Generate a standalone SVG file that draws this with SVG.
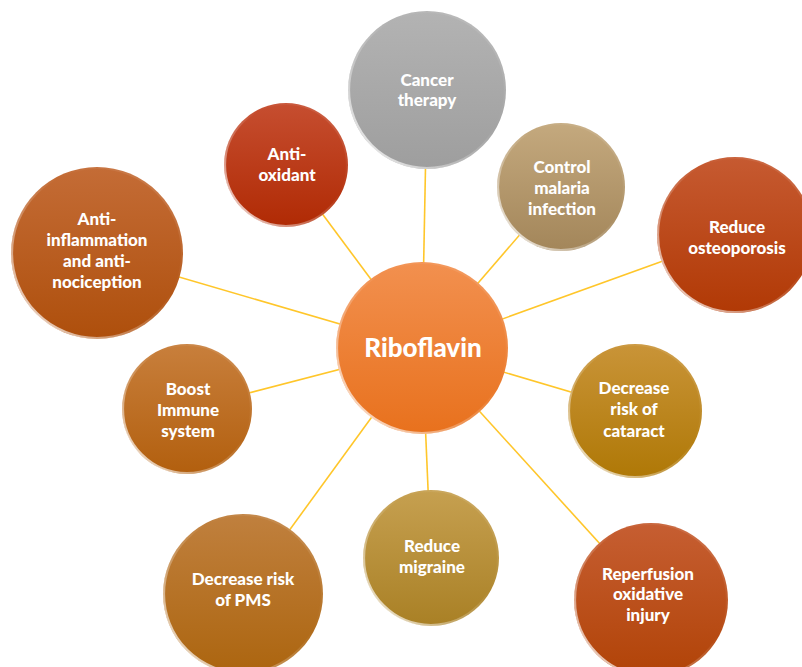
<svg xmlns="http://www.w3.org/2000/svg" width="802" height="667" viewBox="0 0 802 667">
<style>
.lbl{font-family:Lato,"Open Sans","Liberation Sans",sans-serif;font-weight:900;font-size:17px;fill:#ffffff;text-anchor:middle}
.main{font-size:26px}
.rim{fill:none;stroke:url(#rim);stroke-width:2.2}
.con line{stroke:#FFC62A;stroke-width:1.6}
</style>
<defs>
<linearGradient id="rim" x1="0" y1="1" x2="1" y2="0">
<stop offset="0" stop-color="#fff" stop-opacity="0.95"/>
<stop offset="0.35" stop-color="#fff" stop-opacity="0.3"/>
<stop offset="0.6" stop-color="#fff" stop-opacity="0"/>
<stop offset="1" stop-color="#fff" stop-opacity="0.15"/>
</linearGradient>
<linearGradient id="gC" x1="0" y1="0" x2="0" y2="1"><stop offset="0" stop-color="#F2904F"/><stop offset="1" stop-color="#E8711D"/></linearGradient>
<linearGradient id="gGray" x1="0" y1="0" x2="0" y2="1"><stop offset="0" stop-color="#B3B3B3"/><stop offset="1" stop-color="#9E9E9E"/></linearGradient>
<linearGradient id="gRed" x1="0" y1="0" x2="0" y2="1"><stop offset="0" stop-color="#C64E30"/><stop offset="1" stop-color="#B02A04"/></linearGradient>
<linearGradient id="gTan" x1="0" y1="0" x2="0" y2="1"><stop offset="0" stop-color="#C4A97E"/><stop offset="1" stop-color="#A3865A"/></linearGradient>
<linearGradient id="gOst" x1="0" y1="0" x2="0" y2="1"><stop offset="0" stop-color="#C65A31"/><stop offset="1" stop-color="#B13905"/></linearGradient>
<linearGradient id="gInf" x1="0" y1="0" x2="0" y2="1"><stop offset="0" stop-color="#C46C36"/><stop offset="1" stop-color="#AE4F0C"/></linearGradient>
<linearGradient id="gBoost" x1="0" y1="0" x2="0" y2="1"><stop offset="0" stop-color="#C87F3C"/><stop offset="1" stop-color="#B25F0E"/></linearGradient>
<linearGradient id="gCat" x1="0" y1="0" x2="0" y2="1"><stop offset="0" stop-color="#C99438"/><stop offset="1" stop-color="#AF7806"/></linearGradient>
<linearGradient id="gPms" x1="0" y1="0" x2="0" y2="1"><stop offset="0" stop-color="#C0803E"/><stop offset="1" stop-color="#AC650F"/></linearGradient>
<linearGradient id="gMig" x1="0" y1="0" x2="0" y2="1"><stop offset="0" stop-color="#C6A050"/><stop offset="1" stop-color="#A98025"/></linearGradient>
<linearGradient id="gRep" x1="0" y1="0" x2="0" y2="1"><stop offset="0" stop-color="#C65E32"/><stop offset="1" stop-color="#B14307"/></linearGradient>
</defs>
<rect width="802" height="667" fill="#ffffff"/>
<g id="connectors" class="con">
<line x1="422" y1="348" x2="427" y2="90"/>
<line x1="422" y1="348" x2="286" y2="165"/>
<line x1="422" y1="348" x2="561" y2="187"/>
<line x1="422" y1="348" x2="735" y2="235"/>
<line x1="422" y1="348" x2="97" y2="253"/>
<line x1="422" y1="348" x2="187" y2="409"/>
<line x1="422" y1="348" x2="635" y2="411"/>
<line x1="422" y1="348" x2="243" y2="594"/>
<line x1="422" y1="348" x2="431" y2="558"/>
<line x1="422" y1="348" x2="651" y2="600"/>
</g>
<g id="cancer"><circle cx="427" cy="90" r="79" fill="url(#gGray)"/><circle class="rim" cx="427" cy="90" r="78"/>
<text class="lbl" x="427" y="86">Cancer</text><text class="lbl" x="427" y="106">therapy</text></g>
<g id="antioxidant"><circle cx="286" cy="165" r="62" fill="url(#gRed)"/><circle class="rim" cx="286" cy="165" r="61"/>
<text class="lbl" x="287" y="160">Anti-</text><text class="lbl" x="287" y="181">oxidant</text></g>
<g id="malaria"><circle cx="561" cy="187" r="64" fill="url(#gTan)"/><circle class="rim" cx="561" cy="187" r="63"/>
<text class="lbl" x="562" y="173">Control</text><text class="lbl" x="562" y="194">malaria</text><text class="lbl" x="562" y="215">infection</text></g>
<g id="osteoporosis"><circle cx="735" cy="235" r="78" fill="url(#gOst)"/><circle class="rim" cx="735" cy="235" r="77"/>
<text class="lbl" x="737" y="233">Reduce</text><text class="lbl" x="737" y="254">osteoporosis</text></g>
<g id="antiinflammation"><circle cx="97" cy="253" r="86" fill="url(#gInf)"/><circle class="rim" cx="97" cy="253" r="85"/>
<text class="lbl" x="97" y="225">Anti-</text><text class="lbl" x="97" y="246">inflammation</text><text class="lbl" x="97" y="267">and anti-</text><text class="lbl" x="97" y="288">nociception</text></g>
<g id="immune"><circle cx="187" cy="409" r="65" fill="url(#gBoost)"/><circle class="rim" cx="187" cy="409" r="64"/>
<text class="lbl" x="188" y="395">Boost</text><text class="lbl" x="188" y="416">Immune</text><text class="lbl" x="188" y="437">system</text></g>
<g id="cataract"><circle cx="635" cy="411" r="67" fill="url(#gCat)"/><circle class="rim" cx="635" cy="411" r="66"/>
<text class="lbl" x="634" y="394">Decrease</text><text class="lbl" x="634" y="415">risk of</text><text class="lbl" x="634" y="437">cataract</text></g>
<g id="pms"><circle cx="243" cy="594" r="80" fill="url(#gPms)"/><circle class="rim" cx="243" cy="594" r="79"/>
<text class="lbl" x="243" y="585">Decrease risk</text><text class="lbl" x="243" y="606">of PMS</text></g>
<g id="migraine"><circle cx="431" cy="558" r="68" fill="url(#gMig)"/><circle class="rim" cx="431" cy="558" r="67"/>
<text class="lbl" x="432" y="552">Reduce</text><text class="lbl" x="432" y="573">migraine</text></g>
<g id="reperfusion"><circle cx="651" cy="600" r="77" fill="url(#gRep)"/><circle class="rim" cx="651" cy="600" r="76"/>
<text class="lbl" x="648" y="580">Reperfusion</text><text class="lbl" x="648" y="600">oxidative</text><text class="lbl" x="648" y="621">injury</text></g>
<g id="riboflavin"><circle cx="422" cy="348" r="86" fill="url(#gC)"/><circle class="rim" cx="422" cy="348" r="85"/>
<text class="lbl main" x="423" y="357">Riboflavin</text></g>
</svg>
